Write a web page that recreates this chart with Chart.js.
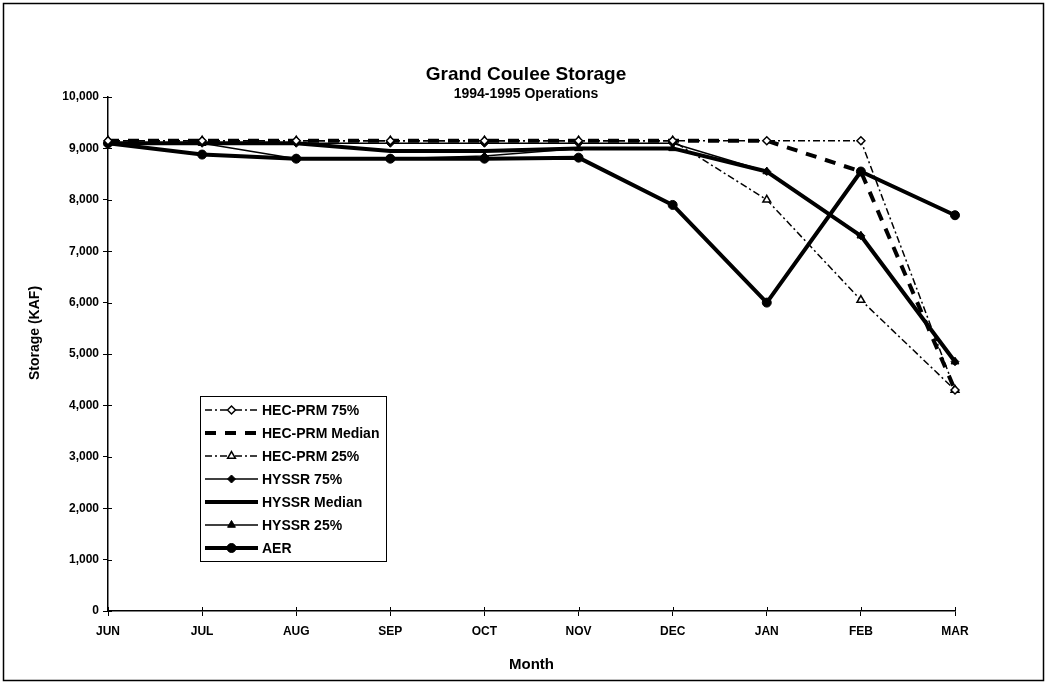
<!DOCTYPE html>
<html>
<head>
<meta charset="utf-8">
<script src="https://cdn.jsdelivr.net/npm/chart.js@4.4.1/dist/chart.umd.min.js"></script>
<style>
  html, body { margin: 0; padding: 0; background: #fff; }
  #wrap { width: 1047px; height: 684px; }
</style>
</head>
<body>
<div id="wrap"><canvas id="storageChart" width="1047" height="684"></canvas></div>
<script>
// Months along the x axis
const months = ['JUN', 'JUL', 'AUG', 'SEP', 'OCT', 'NOV', 'DEC', 'JAN', 'FEB', 'MAR'];

// Storage (KAF)
const hecPrm75     = [9150, 9150, 9150, 9150, 9150, 9150, 9150, 9150, 9150, 4300];
const hecPrmMedian = [9150, 9150, 9150, 9150, 9150, 9150, 9150, 9150, 8550, 4300];
const hecPrm25     = [9150, 9150, 9150, 9150, 9150, 9150, 9150, 8000, 6050, 4300];
const hyssr75      = [9100, 9100, 9100, 9100, 9100, 9100, 9100, 8550, 7300, 4850];
const hyssrMedian  = [9100, 9100, 9100, 8950, 8950, 9000, 9000, 8550, 7300, 4850];
const hyssr25      = [9100, 9100, 8800, 8800, 8850, 9000, 9000, 8550, 7300, 4850];
const aer          = [9100, 8880, 8800, 8800, 8800, 8820, 7900, 6000, 8550, 7700];

const yTicks = [0, 1000, 2000, 3000, 4000, 5000, 6000, 7000, 8000, 9000, 10000];

const FONT = "'Liberation Sans', Arial, sans-serif";
const dashDot = [7, 3, 2, 3];

// Title, y title, legend box, crossing ticks and outer frame drawn by hand to match the scan
const decorations = {
    id: 'decorations',
    afterDraw(chart) {
        const ctx = chart.ctx;
        const xs = chart.scales.x, ys = chart.scales.y;
        ctx.save();

        // outer frame
        ctx.strokeStyle = '#000';
        ctx.lineWidth = 1.5;
        ctx.strokeRect(3.5, 3.5, 1040, 677);

        // tick marks poking across the axes
        ctx.lineWidth = 1;
        ctx.beginPath();
        ys.ticks.forEach(t => {
            const y = Math.round(ys.getPixelForValue(t.value)) + 0.5;
            ctx.moveTo(ys.right, y);
            ctx.lineTo(ys.right + 4, y);
        });
        xs.ticks.forEach((t, i) => {
            const x = Math.round(xs.getPixelForTick(i)) + 0.5;
            ctx.moveTo(x, xs.top);
            ctx.lineTo(x, xs.top - 4);
        });
        ctx.stroke();

        // titles
        ctx.fillStyle = '#000';
        ctx.textAlign = 'center';
        ctx.textBaseline = 'middle';
        ctx.font = 'bold 19px ' + FONT;
        ctx.fillText('Grand Coulee Storage', 526, 75);
        ctx.font = 'bold 14px ' + FONT;
        ctx.fillText('1994-1995 Operations', 526, 94);

        // y axis title
        ctx.save();
        ctx.translate(35, 333);
        ctx.rotate(-Math.PI / 2);
        ctx.font = 'bold 14px ' + FONT;
        ctx.fillText('Storage (KAF)', 0, 0);
        ctx.restore();

        // legend box
        const bx = 200, by = 396, bw = 186, bh = 165;
        ctx.fillStyle = '#fff';
        ctx.fillRect(bx, by, bw, bh);
        ctx.lineWidth = 1;
        ctx.strokeStyle = '#000';
        ctx.strokeRect(bx + 0.5, by + 0.5, bw, bh);

        chart.data.datasets.forEach((ds, i) => {
            const y = by + 14 + i * 23;
            const x0 = bx + 5, x1 = bx + 58;
            ctx.save();
            ctx.strokeStyle = '#000';
            ctx.lineWidth = ds.borderWidth;
            ctx.setLineDash(ds.borderDash || []);
            ctx.beginPath();
            ctx.moveTo(x0, y);
            ctx.lineTo(x1, y);
            ctx.stroke();
            ctx.restore();
            if (ds.pointRadius > 0) {
                ctx.save();
                ctx.fillStyle = ds.pointBackgroundColor;
                ctx.strokeStyle = '#000';
                ctx.lineWidth = ds.pointBorderWidth;
                Chart.helpers.drawPoint(ctx, {
                    pointStyle: ds.pointStyle,
                    radius: ds.pointRadius,
                    rotation: 0,
                    borderWidth: ds.pointBorderWidth
                }, (x0 + x1) / 2, y);
                ctx.restore();
            }
            ctx.fillStyle = '#000';
            ctx.textAlign = 'left';
            ctx.textBaseline = 'middle';
            ctx.font = 'bold 14px ' + FONT;
            ctx.fillText(ds.label, x1 + 4, y + 1);
        });

        ctx.restore();
    }
};

const ctx = document.getElementById('storageChart');

new Chart(ctx, {
    type: 'line',
    data: {
        labels: months,
        datasets: [
            {
                label: 'HEC-PRM 75%',
                data: hecPrm75,
                borderColor: '#000',
                borderWidth: 1.5,
                borderDash: dashDot,
                pointStyle: 'rectRot',
                pointRadius: 4,
                pointBackgroundColor: '#fff',
                pointBorderColor: '#000',
                pointBorderWidth: 1.5
            },
            {
                label: 'HEC-PRM Median',
                data: hecPrmMedian,
                borderColor: '#000',
                borderWidth: 4,
                borderDash: [11, 9],
                pointRadius: 0
            },
            {
                label: 'HEC-PRM 25%',
                data: hecPrm25,
                borderColor: '#000',
                borderWidth: 1.5,
                borderDash: dashDot,
                pointStyle: 'triangle',
                pointRadius: 4.5,
                pointBackgroundColor: '#fff',
                pointBorderColor: '#000',
                pointBorderWidth: 1.5
            },
            {
                label: 'HYSSR 75%',
                data: hyssr75,
                borderColor: '#000',
                borderWidth: 1.5,
                pointStyle: 'rectRot',
                pointRadius: 4,
                pointBackgroundColor: '#000',
                pointBorderColor: '#000',
                pointBorderWidth: 1
            },
            {
                label: 'HYSSR Median',
                data: hyssrMedian,
                borderColor: '#000',
                borderWidth: 4,
                pointRadius: 0
            },
            {
                label: 'HYSSR 25%',
                data: hyssr25,
                borderColor: '#000',
                borderWidth: 1.5,
                pointStyle: 'triangle',
                pointRadius: 4.5,
                pointBackgroundColor: '#000',
                pointBorderColor: '#000',
                pointBorderWidth: 1
            },
            {
                label: 'AER',
                data: aer,
                borderColor: '#000',
                borderWidth: 4,
                pointStyle: 'circle',
                pointRadius: 4.5,
                pointBackgroundColor: '#000',
                pointBorderColor: '#000',
                pointBorderWidth: 1
            }
        ]
    },
    options: {
        responsive: false,
        animation: false,
        devicePixelRatio: 1,
        layout: {
            padding: { top: 97, right: 92, bottom: 6, left: 8 }
        },
        plugins: {
            legend: { display: false },
            title: { display: false },
            tooltip: { enabled: false }
        },
        elements: {
            line: { tension: 0, borderJoinStyle: 'round' }
        },
        scales: {
            x: {
                offset: false,
                grid: { display: true, drawOnChartArea: false, color: '#000', tickLength: 5 },
                border: { color: '#000', width: 1.5 },
                ticks: {
                    color: '#000',
                    font: { family: FONT, size: 12, weight: 'bold' },
                    padding: 8,
                    maxRotation: 0
                },
                title: {
                    display: true,
                    text: 'Month',
                    color: '#000',
                    font: { family: FONT, size: 15, weight: 'bold' },
                    padding: { top: 13 }
                },
                afterFit(scale) { scale.height = 67; }
            },
            y: {
                min: 0,
                max: 10000,
                afterBuildTicks(scale) {
                    scale.ticks = yTicks.map(v => ({ value: v }));
                },
                grid: { display: true, drawOnChartArea: false, color: '#000', tickLength: 5 },
                border: { color: '#000', width: 1.5 },
                ticks: {
                    color: '#000',
                    font: { family: FONT, size: 12, weight: 'bold' },
                    padding: 4,
                    callback: v => v.toLocaleString('en-US')
                },
                afterFit(scale) { scale.width = 100; }
            }
        }
    },
    plugins: [decorations]
});
</script>
</body>
</html>
